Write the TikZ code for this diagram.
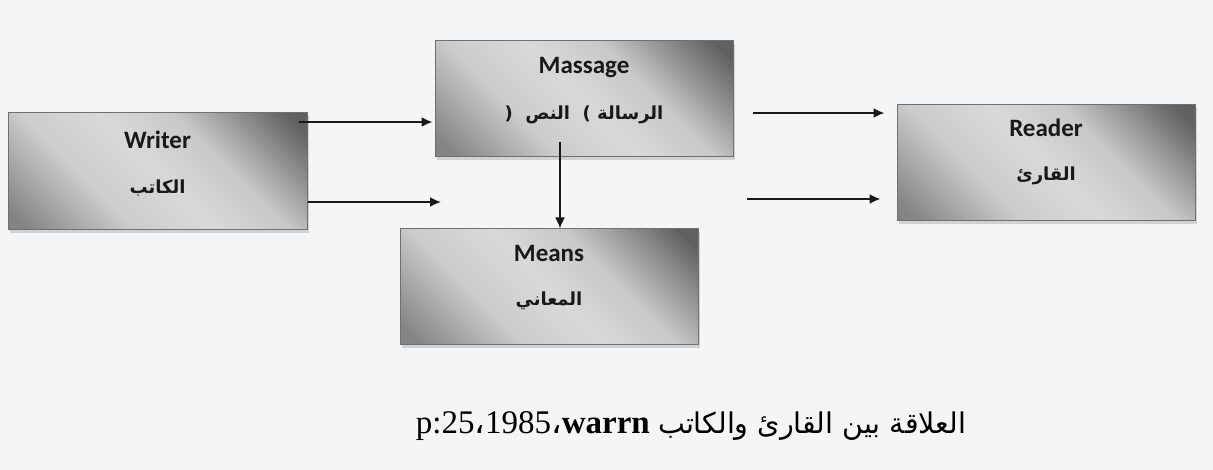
\documentclass[tikz,border=0pt]{standalone}
\usepackage{fontspec}
\setmainfont{Liberation Serif}
\newfontfamily\lblfont{Carlito}
\newfontfamily\arfont[Script=Arabic]{DejaVu Sans}
\TeXXeTstate=1
\usetikzlibrary{shadows,arrows.meta}
\definecolor{bg}{HTML}{F4F5F7}
\definecolor{edgegray}{HTML}{707070}
\pgfdeclarehorizontalshading{boxshade}{100bp}{%
  color(0bp)=(black!52); color(18bp)=(black!48); color(36bp)=(black!20);
  color(50bp)=(black!15); color(63bp)=(black!22); color(82bp)=(black!62); color(100bp)=(black!64)}
\tikzset{
  boxnode/.style={draw=edgegray, line width=1pt, shading=boxshade, shading angle=45,
    minimum width=298pt, minimum height=116pt, inner sep=0pt,
    drop shadow={shadow xshift=2pt, shadow yshift=-3pt, opacity=0.3, fill=black!50}},
  title/.style={font=\lblfont\bfseries\fontsize{25}{28}\selectfont, text=black!90, inner sep=0pt},
  artext/.style={font=\arfont\bfseries\fontsize{18}{21}\selectfont, text=black!90, inner sep=0pt},
  arr/.style={draw=black!90, line width=1.8pt, -{Latex[length=11pt,width=10pt]}},
}
\newcommand\arcomma{{\arfont ،}}
\begin{document}
\begin{tikzpicture}[x=1pt, y=-1pt]
  \fill[bg] (0,0) rectangle (1213,470);
  \useasboundingbox (0,0) rectangle (1213,470);

  % boxes
  \node[boxnode, minimum width=299pt, minimum height=117pt] (w) at (157.5,171.5) {};
  \node[boxnode] (m) at (584,99) {};
  \node[boxnode] (e) at (549,287) {};
  \node[boxnode] (r) at (1046,163) {};

  % labels (brackets written in visual order, since they are not mirrored)
  \node[title]  (wt) at ([yshift=32pt]w.center) {Writer};
  \node[artext] (wa) at ([yshift=-17pt]w.center) {\beginR الكاتب\endR};
  \node[title]  (mt) at ([yshift=31pt]m.center) {Massage};
  \node[artext] (ma) at ([yshift=-16pt]m.center) {\beginR الرسالة )\ \ النص\ \ (\endR};
  \node[title]  (et) at ([yshift=34pt]e.center) {Means};
  \node[artext] (ea) at ([yshift=-14pt]e.center) {\beginR المعاني\endR};
  \node[title]  (rt) at ([yshift=35pt]r.center) {Reader};
  \node[artext] (ra) at ([yshift=-13pt]r.center) {\beginR القارئ\endR};

  % connectors
  \coordinate (w1) at ([xshift=-9pt, yshift=49.5pt]w.east);
  \coordinate (w2) at ([yshift=-30.5pt]w.east);
  \coordinate (wfree) at (441,202);
  \coordinate (m1) at ([xshift=19pt, yshift=-14pt]m.east);
  \coordinate (m2) at (747,199);
  \coordinate (mdown) at ([xshift=-24pt, yshift=15pt]m.south);

  \draw[arr, shorten >=2pt] (w1) -- (w1 -| m.west);
  \draw[arr] (w2) -- (wfree);
  \draw[arr, shorten >=12pt] (m1) -- (m1 -| r.west);
  \draw[arr, shorten >=16pt] (m2) -- (m2 -| r.west);
  \draw[arr] (mdown) -- (mdown |- e.north);

  % caption
  \node[inner sep=0pt, anchor=base] (cap) at (691,433)
    {\fontsize{33}{36}\selectfont\beginR{\arfont\fontsize{28.5}{31}\selectfont العلاقة بين القارئ والكاتب}\ \beginL\textbf{warrn}\endL\arcomma\beginL 1985\endL\arcomma\beginL p:25\endL\endR};
\end{tikzpicture}
\end{document}
